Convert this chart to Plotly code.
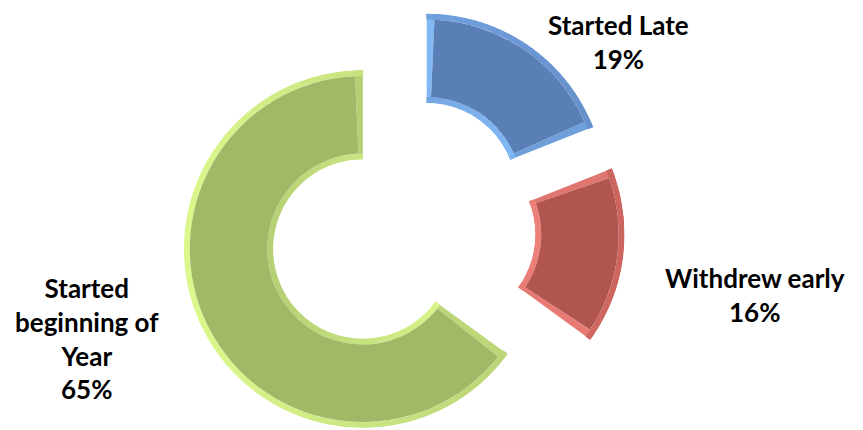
import math
import plotly.graph_objects as go

# Enrolment status shares (percent)
categories = ["Started Late", "Withdrew early", "Started beginning of Year"]
label_lines = ["Started Late", "Withdrew early", "Started<br>beginning of<br>Year"]
values = [19, 16, 65]
fill_colors = ["#5A7EB6", "#B0564F", "#A2B866"]
rim_mid_colors = ["#6690CC", "#CC655E", "#B5CF74"]
rim_light_colors = ["#80B8F5", "#EC8078", "#DCF88C"]

W, H = 863, 430
CENTER = (402, 229)      # donut centre in px (from top-left)
OUTER_R = 179            # outer radius in px
HOLE = 0.5               # inner radius as fraction of outer
EXPLODE = 44             # slice offset in px
BEVEL = 6                # bevel rim width in px
SEG = 2.0                # angular step of bevel shading, degrees
LIGHT = (-0.995, 0.1)    # light direction on screen (x right, y down)
label_pos = [(618, 42), (755, 295), (87, 338)]  # label centres in px

ring_px = OUTER_R * (1 - HOLE)
mid_px = OUTER_R * (1 + HOLE) / 2
bevel_r = BEVEL / ring_px
bevel_deg = math.degrees(BEVEL / mid_px)


def hex_rgb(h):
    h = h.lstrip("#")
    return tuple(int(h[k:k + 2], 16) for k in (0, 2, 4))


def mix(c1, c2, t):
    a, b = hex_rgb(c1), hex_rgb(c2)
    return "rgb({},{},{})".format(*(round(a[k] + (b[k] - a[k]) * t) for k in range(3)))


def shade(i, nx, ny):
    d = nx * LIGHT[0] + ny * LIGHT[1]
    t = max(0.0, min(1.0, 0.5 + 0.5 * d))
    return mix(rim_mid_colors[i], rim_light_colors[i], t)


def radial(th):
    a = math.radians(th)
    return math.sin(a), -math.cos(a)


def tangent(th):
    a = math.radians(th)
    return math.cos(a), math.sin(a)


fig = go.Figure()
total = sum(values)
start = 0.0
for i, (cat, v) in enumerate(zip(categories, values)):
    width = v / total * 360.0
    end = start + width
    mid = start + width / 2.0
    mx, my = radial(mid)
    cx = CENTER[0] + EXPLODE * mx
    cy = CENTER[1] + EXPLODE * my
    pid = "polar" if i == 0 else f"polar{i + 1}"

    # bevel pieces: radial edges, outer arc, inner arc
    thetas, widths, bases, rs, cols = [], [], [], [], []
    sx, sy = tangent(start)
    thetas.append(start + bevel_deg / 2); widths.append(bevel_deg)
    bases.append(0.0); rs.append(1.0); cols.append(shade(i, -sx, -sy))
    ex, ey = tangent(end)
    thetas.append(end - bevel_deg / 2); widths.append(bevel_deg)
    bases.append(0.0); rs.append(1.0); cols.append(shade(i, ex, ey))
    n = max(1, int(round(width / SEG)))
    step = width / n
    for k in range(n):
        th = start + (k + 0.5) * step
        nx, ny = radial(th)
        thetas.append(th); widths.append(step * 1.15)
        bases.append(1.0 - bevel_r); rs.append(bevel_r); cols.append(shade(i, nx, ny))
        thetas.append(th); widths.append(step * 1.15)
        bases.append(0.0); rs.append(bevel_r); cols.append(shade(i, -nx, -ny))
    fig.add_trace(go.Barpolar(
        r=rs, theta=thetas, width=widths, base=bases,
        marker=dict(color=cols, line=dict(width=0)),
        name=cat, subplot=pid, showlegend=False, hoverinfo="skip",
    ))
    # slice face, inset by the bevel width
    fig.add_trace(go.Barpolar(
        r=[1.0 - 2 * bevel_r], base=[bevel_r], theta=[mid],
        width=[width - 2 * bevel_deg],
        marker=dict(color=fill_colors[i], line=dict(width=0)),
        name=cat, subplot=pid, showlegend=False, hoverinfo="name",
    ))
    fig.layout[pid] = dict(
        domain=dict(x=[(cx - OUTER_R) / W, (cx + OUTER_R) / W],
                    y=[(H - cy - OUTER_R) / H, (H - cy + OUTER_R) / H]),
        hole=HOLE,
        bgcolor="rgba(0,0,0,0)",
        radialaxis=dict(range=[0, 1], visible=False, showgrid=False),
        angularaxis=dict(rotation=90, direction="clockwise", visible=False,
                         showgrid=False, showline=False, ticks=""),
    )
    lx, ly = label_pos[i]
    fig.add_annotation(
        x=lx / W, y=1 - ly / H, xref="paper", yref="paper",
        text=f"<b>{label_lines[i]}<br>{v}%</b>", showarrow=False,
        xanchor="center", yanchor="middle", align="center",
        font=dict(family="Lato", size=26, color="#000000"),
    )
    start = end

fig.update_layout(
    width=W, height=H, margin=dict(l=0, r=0, t=0, b=0),
    paper_bgcolor="white", plot_bgcolor="white",
)
fig.write_html("out.html")
